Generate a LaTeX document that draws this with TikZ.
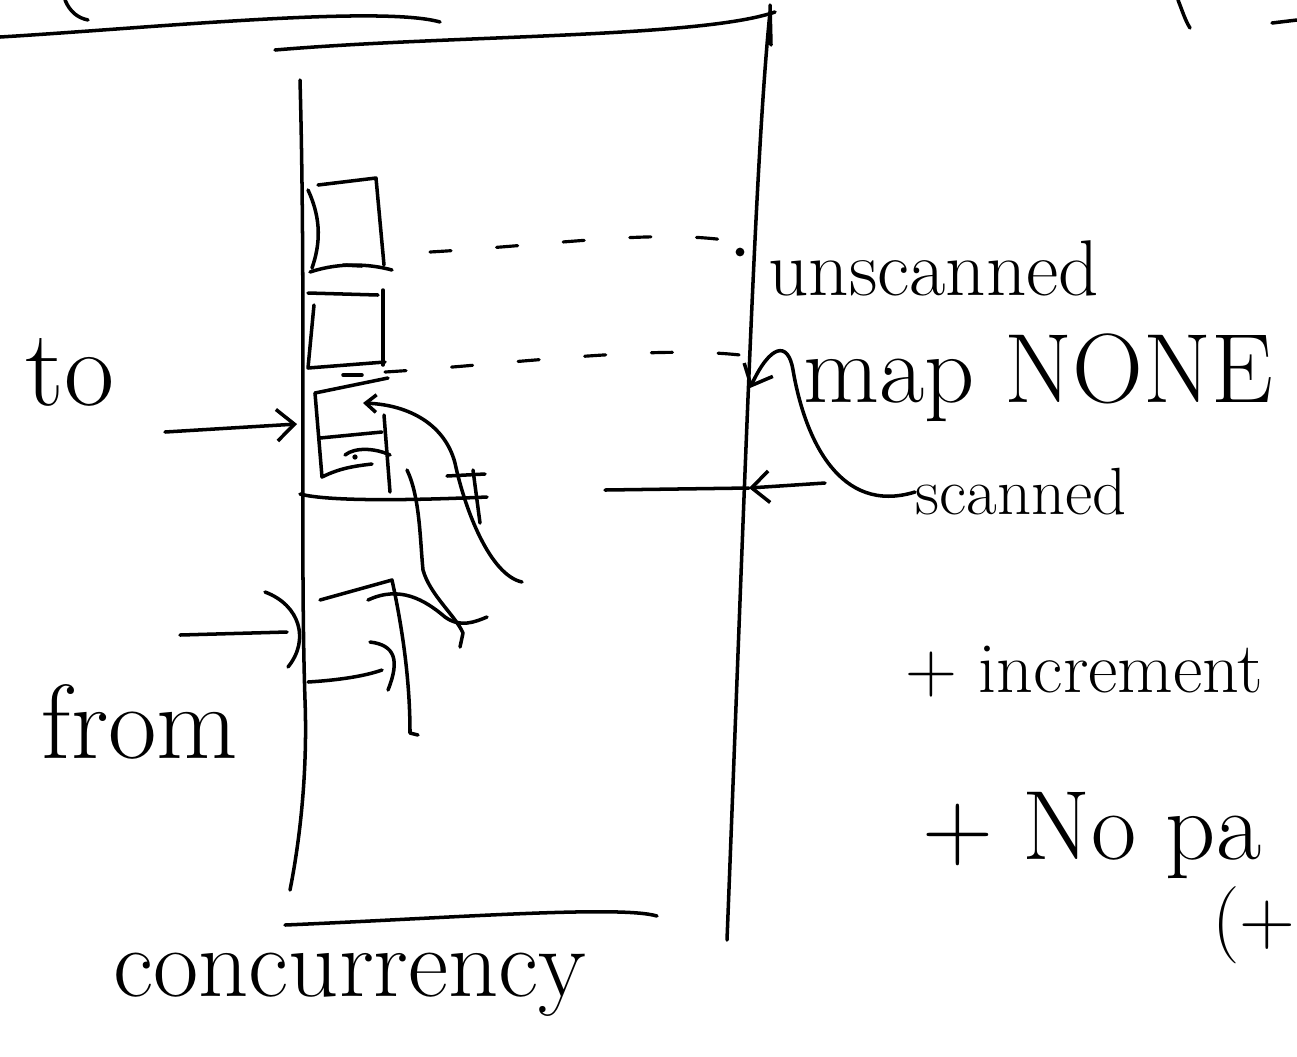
\documentclass[tikz,border=0pt]{standalone}
\usetikzlibrary{arrows.meta}
\begin{document}
\begin{tikzpicture}[x=0.02cm, y=-0.02cm,
  ink/.style={line width=2pt, line cap=round, line join=round},
  dashink/.style={line width=1.8pt, line cap=round, dash pattern=on 12pt off 26pt},
  hand/.style={inner sep=0pt, font=\fontsize{#1}{#1}\selectfont},
  barb/.style={-{Straight Barb[length=10pt,width=18pt,line width=2pt]}}]
  \useasboundingbox (0,0) rectangle (1297,1056);
  \clip (0,0) rectangle (1297,1056);

  % labels
  \node[hand=62] (lblTo) at (70,372) {to};
  \node[hand=60] (lblFrom) at (140,722) {from};
  \node[hand=56] (lblConc) at (350,985) {concurrency};
  \node[hand=45, anchor=west] (lblUnscanned) at (768,268) {unscanned};
  \node[hand=56, anchor=west] (lblMap) at (803,378) {map NONE};
  \node[hand=38, anchor=west] (lblScanned) at (915,492) {scanned};
  \node[hand=41, anchor=west] (lblIncr) at (905,672) {+ increment};
  \node[hand=56, anchor=west] (lblPause) at (922,835) {+ No pa};
  \node[hand=44, anchor=west] (lblParen) at (1212,925) {(+};

  % points on the column
  \coordinate (toTail) at (165,432);
  \coordinate (toTip) at (297,424);
  \coordinate (fromTail) at (180,635);
  \coordinate (fromTip) at (287,632);
  \coordinate (scanTail) at (825,483);
  \coordinate (scanTip) at (749,488);
  \coordinate (mapTip) at (750,388);

  % top strokes
  \draw[ink] (65,0) .. controls (70,12) and (78,18) .. (88,20);
  \draw[ink] (0,37) .. controls (150,28) and (380,5) .. (440,22);
  \draw[ink] (275,50) .. controls (450,35) and (700,38) .. (775,12);
  \draw[ink] (770,5) -- (771,45);
  \draw[ink] (1178,0) .. controls (1182,10) and (1185,20) .. (1190,28);
  \draw[ink] (1272,23) -- (1297,20);

  % column
  \draw[ink] (300,80) .. controls (306,300) and (300,550) .. (305,700)
    .. controls (308,780) and (298,850) .. (290,890);
  \draw[ink] (770,12) .. controls (755,160) and (745,480) .. (727,940);
  \draw[ink] (285,925) .. controls (450,918) and (620,905) .. (657,916);

  % entries
  \draw[ink] (318,185) -- (376,178) -- (384,265);
  \draw[ink] (308,190) .. controls (322,220) and (320,245) .. (312,268);
  \draw[ink] (310,272) .. controls (340,262) and (370,264) .. (392,270);
  \draw[ink] (343,265) -- (362,266);
  \draw[ink] (308,293) -- (378,295);
  \draw[ink] (383,290) -- (383,365);
  \draw[ink] (314,305) -- (308,368) -- (385,362);
  \draw[ink] (343,375) -- (362,375);
  \draw[ink] (315,393) -- (388,378);
  \draw[ink] (315,393) -- (322,477) .. controls (340,468) and (355,466) .. (372,464);
  \draw[ink] (320,438) -- (382,432);
  \draw[ink] (384,415) -- (390,492);
  \draw[ink] (345,455) .. controls (355,447) and (375,448) .. (390,455);
  \fill (355,457) circle (1.5pt);
  \draw[ink] (300,494) .. controls (330,502) and (420,500) .. (487,497);
  \draw[ink] (447,476) -- (485,474);
  \draw[ink] (473,470) -- (480,523);
  \draw[ink, {Straight Barb[length=6pt,width=10pt]}-] (363,403)
    .. controls (410,405) and (445,425) .. (455,463)
    .. controls (465,510) and (490,575) .. (522,582);
  \draw[ink] (407,470) .. controls (420,497) and (420,540) .. (423,570)
    .. controls (430,595) and (455,615) .. (463,633) -- (460,647);
  \draw[ink] (368,600) .. controls (400,585) and (425,600) .. (445,617)
    .. controls (460,628) and (475,622) .. (487,617);
  \draw[ink] (320,600) -- (392,580) .. controls (405,640) and (410,690) .. (410,733) -- (418,735);
  \draw[ink] (308,682) .. controls (340,680) and (365,676) .. (382,670);
  \draw[ink] (370,642) .. controls (395,645) and (400,660) .. (388,690);

  % dashed levels
  \draw[dashink] (430,252) .. controls (550,245) and (650,230) .. (725,240);
  \fill (740,252) circle (2.5pt);
  \draw[dashink] (385,372) .. controls (500,365) and (650,345) .. (740,355);

  % arrows
  \draw[ink, barb] (toTail) -- (toTip);
  \draw[ink] (fromTail) -- (fromTip);
  \draw[ink] (265,592) .. controls (300,605) and (310,640) .. (288,667);
  \draw[ink] (605,490) -- (scanTip);
  \draw[ink, barb] (scanTail) -- (scanTip);
  \draw[ink, barb] (lblScanned.west) .. controls (840,515) and (805,440) .. (793,370)
    .. controls (788,340) and (770,345) .. (mapTip);
\end{tikzpicture}
\end{document}
